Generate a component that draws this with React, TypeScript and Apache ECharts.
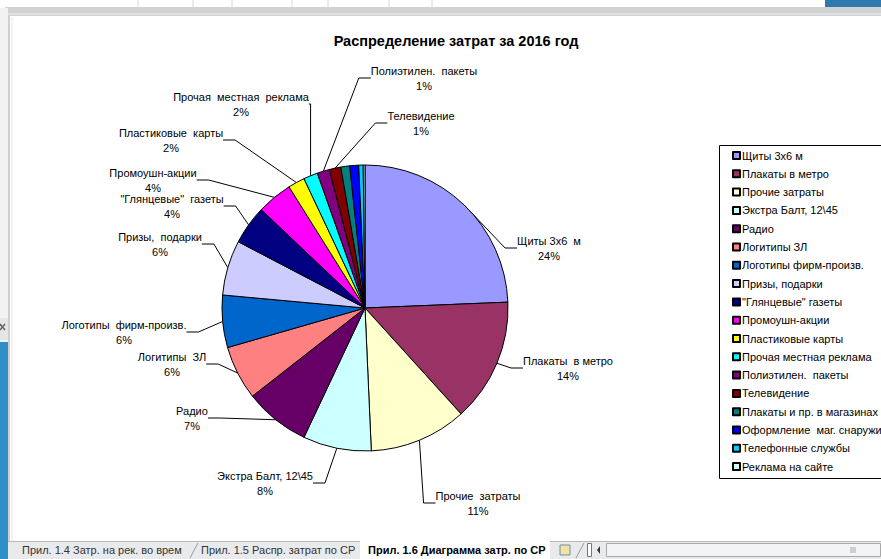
import React, { useEffect, useRef } from "react";
import * as echarts from "echarts";

const categories = [
  "Щиты 3х6 м",
  "Плакаты в метро",
  "Прочие затраты",
  "Экстра Балт, 12\\45",
  "Радио",
  "Логитипы ЗЛ",
  "Логотипы фирм-произв.",
  "Призы, подарки",
  "\"Глянцевые\" газеты",
  "Промоушн-акции",
  "Пластиковые карты",
  "Прочая местная реклама",
  "Полиэтилен.  пакеты",
  "Телевидение",
  "Плакаты и пр. в магазинах",
  "Оформление  маг. снаружи",
  "Телефонные службы",
  "Реклама на сайте",
];
const labelNames = [
  "Щиты 3х6  м",
  "Плакаты  в метро",
  "Прочие  затраты",
  "Экстра Балт, 12\\45",
  "Радио",
  "Логитипы  ЗЛ",
  "Логотипы  фирм-произв.",
  "Призы,  подарки",
  "\"Глянцевые\"  газеты",
  "Промоушн-акции",
  "Пластиковые  карты",
  "Прочая  местная  реклама",
  "Полиэтилен.  пакеты",
  "Телевидение",
  "",
  "",
  "",
  "",
];
const values = [24.3, 13.9, 11, 7.7, 7.4, 6.1, 5.9, 6.2, 4.4, 4, 1.9, 1.6, 1.4, 1.3, 1.0, 1.0, 0.5, 0.2];
const showLabel = [true, true, true, true, true, true, true, true, true, true, true, true, true, true, false, false, false, false];
const colors = [
  "#9999FF", "#993366", "#FFFFCC", "#CCFFFF", "#660066", "#FF8080", "#0066CC", "#CCCCFF", "#000080",
  "#FF00FF", "#FFFF00", "#00FFFF", "#800080", "#800000", "#008080", "#0000FF", "#00CCFF", "#CCFFFF",
];
const sheetTabs = ["Прил. 1.4 Затр. на рек. во врем", "Прил. 1.5 Распр. затрат по СР", "Прил. 1.6 Диаграмма затр. по СР"];

// layout only: centres of the data labels as Excel placed them
const labelSpots: [number, number][] = [
  [549, 248], [568, 368], [478, 503], [265, 483], [192, 418], [172, 364], [124, 332],
  [160, 244], [172, 206], [153, 180], [171, 140], [241, 104], [424, 78], [421, 123],
];

export default function App() {
  const ref = useRef<HTMLDivElement>(null);
  useEffect(() => {
    if (!ref.current) return;
    const chart = echarts.init(ref.current, null, { renderer: "svg" });
    const total = values.reduce((a, b) => a + b, 0);
    const font = "Arial, 'Liberation Sans', sans-serif";
    const gridXs = [138, 193, 232, 292, 328, 389, 432];
    chart.setOption({
      animation: false,
      backgroundColor: "#ffffff",
      color: colors,
      title: {
        text: "Распределение затрат за 2016 год",
        left: 451,
        textAlign: "center",
        top: 28,
        textStyle: { fontFamily: font, fontSize: 14.5, fontWeight: "bold", color: "#000" },
      },
      legend: {
        orient: "vertical",
        left: 727,
        top: 145,
        itemGap: 7.3,
        itemWidth: 7,
        itemHeight: 7,
        icon: "rect",
        selectedMode: false,
        data: categories,
        textStyle: { fontFamily: font, fontSize: 11, color: "#000", padding: [0, 0, 0, -3] },
      },
      graphic: [
        { type: "rect", shape: { x: 0, y: 0, width: 881, height: 8 }, style: { fill: "#ffffff" }, silent: true },
        ...gridXs.map((x) => ({ type: "line", shape: { x1: x, y1: 0, x2: x, y2: 8 }, style: { stroke: "#d8d8d8", lineWidth: 1 }, silent: true })),
        { type: "rect", shape: { x: 825, y: 0, width: 56, height: 7 }, style: { fill: "#2e7aad" }, silent: true },
        { type: "rect", shape: { x: 5, y: 7, width: 876, height: 9 }, style: { fill: "#d0d2d4" }, silent: true },
        { type: "line", shape: { x1: 5, y1: 14, x2: 881, y2: 14 }, style: { stroke: "#eeeeee", lineWidth: 1 }, silent: true },
        { type: "rect", shape: { x: 0, y: 8, width: 8, height: 551 }, style: { fill: "#f2f2f2" }, silent: true },
        { type: "rect", shape: { x: 0, y: 342, width: 8, height: 217 }, style: { fill: "#2e8fc9" }, silent: true },
        { type: "rect", shape: { x: 0, y: 318, width: 8, height: 22 }, style: { fill: "#e4e6e8" }, silent: true },
        { type: "line", shape: { x1: 0, y1: 324, x2: 5, y2: 330 }, style: { stroke: "#666", lineWidth: 1.5 }, silent: true },
        { type: "line", shape: { x1: 5, y1: 324, x2: 0, y2: 330 }, style: { stroke: "#666", lineWidth: 1.5 }, silent: true },
        { type: "line", shape: { x1: 9, y1: 16, x2: 9, y2: 541 }, style: { stroke: "#d0d0d0", lineWidth: 2 }, silent: true },
        { type: "line", shape: { x1: 12, y1: 17, x2: 12, y2: 541 }, style: { stroke: "#e6e6e6", lineWidth: 1 }, silent: true },
        { type: "rect", shape: { x: 719.5, y: 145.5, width: 200, height: 333 }, style: { fill: "none", stroke: "#000", lineWidth: 1 }, silent: true, z: 10 },
        { type: "rect", shape: { x: 8, y: 541, width: 873, height: 18 }, style: { fill: "#e9eaec" }, silent: true },
        { type: "line", shape: { x1: 8, y1: 541.5, x2: 881, y2: 541.5 }, style: { stroke: "#b8b8b8", lineWidth: 1 }, silent: true },
        { type: "rect", shape: { x: 360, y: 541, width: 190, height: 18 }, style: { fill: "#ffffff" }, silent: true },
        { type: "text", x: 22, y: 550, style: { text: sheetTabs[0], fill: "#333", fontSize: 11, fontFamily: font, verticalAlign: "middle" }, silent: true },
        { type: "line", shape: { x1: 190, y1: 558, x2: 198, y2: 543 }, style: { stroke: "#999", lineWidth: 1 }, silent: true },
        { type: "text", x: 201, y: 550, style: { text: sheetTabs[1], fill: "#333", fontSize: 11, fontFamily: font, verticalAlign: "middle" }, silent: true },
        { type: "text", x: 368, y: 550, style: { text: sheetTabs[2], fill: "#000", fontSize: 11, fontWeight: "bold", fontFamily: font, verticalAlign: "middle" }, silent: true },
        { type: "rect", shape: { x: 560, y: 545, width: 10, height: 10 }, style: { fill: "#f3e3a0", stroke: "#6a8fb8", lineWidth: 1 }, silent: true },
        { type: "line", shape: { x1: 576, y1: 558, x2: 584, y2: 543 }, style: { stroke: "#999", lineWidth: 1 }, silent: true },
        { type: "rect", shape: { x: 587.5, y: 543.5, width: 4, height: 13 }, style: { fill: "#fff", stroke: "#777", lineWidth: 1 }, silent: true },
        { type: "polygon", shape: { points: [[600, 546], [600, 554], [597, 550]] }, style: { fill: "#333" }, silent: true },
        { type: "rect", shape: { x: 606.5, y: 543.5, width: 274, height: 13 }, style: { fill: "#f3f4f5", stroke: "#a8a8a8", lineWidth: 1 }, silent: true },
        { type: "line", shape: { x1: 851, y1: 547, x2: 851, y2: 553 }, style: { stroke: "#aaa", lineWidth: 1 }, silent: true },
        { type: "line", shape: { x1: 853, y1: 547, x2: 853, y2: 553 }, style: { stroke: "#aaa", lineWidth: 1 }, silent: true },
        { type: "line", shape: { x1: 855, y1: 547, x2: 855, y2: 553 }, style: { stroke: "#aaa", lineWidth: 1 }, silent: true },
      ],
      series: [
        {
          type: "pie",
          center: [365, 308],
          radius: [0, 143],
          startAngle: 90,
          clockwise: true,
          avoidLabelOverlap: false,
          itemStyle: { borderColor: "#000", borderWidth: 1 },
          label: {
            show: true,
            position: "outside",
            fontFamily: font,
            fontSize: 11,
            color: "#000",
            lineHeight: 15,
            align: "center",
            formatter: (p: any) => `${labelNames[p.dataIndex]}\n${Math.round((p.value / total) * 100)}%`,
          },
          labelLine: { show: true, length: 18, length2: 12, lineStyle: { color: "#000", width: 1 } },
          labelLayout: (params: any) => {
            const spot = labelSpots[params.dataIndex];
            if (!spot) return {};
            return { x: spot[0], y: spot[1], align: "center", verticalAlign: "middle" };
          },
          emphasis: { disabled: true },
          data: categories.map((name, i) => ({
            name,
            value: values[i],
            label: { show: showLabel[i] },
            labelLine: { show: showLabel[i] },
          })),
        },
      ],
    });
    return () => chart.dispose();
  }, []);
  return <div ref={ref} style={{ position: "fixed", left: 0, top: 0, width: 881, height: 559 }} />;
}
